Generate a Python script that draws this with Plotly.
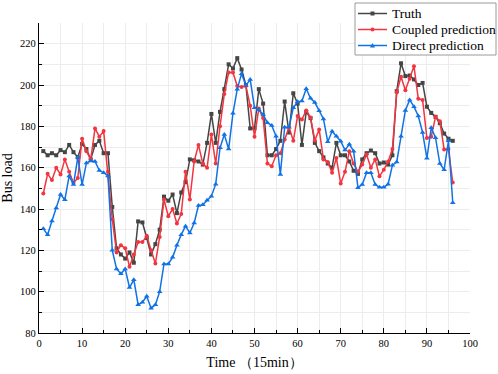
import plotly.graph_objects as go

time_idx = list(range(1, 97))

truth = [168, 166, 167, 166, 168.5, 167.5, 171, 167.5, 165, 171.5, 169, 164, 171, 173, 167, 167,
         141, 121, 118, 116, 119, 114, 134, 133.5, 126, 118, 123, 130, 146, 144, 147, 138,
         148, 153, 164, 163.6, 163, 161.5, 172, 186, 172, 187, 198, 210, 208, 213,
         207.5, 200, 179, 179, 198, 191, 166, 166, 169, 173, 192, 177, 196, 191, 171, 187,
         184, 172, 168, 165, 162, 160, 172, 166, 166, 163, 158.5, 157, 164, 167, 168.3, 167,
         162, 162.5, 161.5, 166, 197, 210.5, 204.3, 204.6, 202.7, 200, 201, 189.5, 186.5, 184.6,
         181.5, 176.5, 174, 173]

coupled = [147.5, 157, 154, 160, 156.7, 164, 158, 152.6, 155, 174, 168, 164, 179, 175, 177.7, 158,
           135, 119, 122.5, 121, 112, 118, 124, 124, 127, 120, 113.6, 126.5, 144.6, 136.5, 140, 133,
           137.6, 158, 144.6, 163, 171, 162, 160, 176, 162, 180, 195.7, 206, 206, 199.5,
           199, 199.5, 190, 175, 188.6, 184, 162, 160.7, 166, 167, 173.6, 179.8, 173, 185, 183.3, 187.7,
           184.3, 173.2, 178.5, 164, 162.7, 157.5, 164.7, 152.3, 158, 168, 162, 158, 161.5, 166.4, 160, 164,
           155.8, 159, 163, 169, 196.5, 204, 197.5, 203, 209.1, 193.3, 192.8, 174.4, 175, 184.6,
           182.5, 168.8, 169, 152.8]

direct = [130.5, 127.5, 134.2, 140.5, 147, 144.5, 156, 151.8, 165, 151.8, 162.3, 163.2, 163, 158.6, 157.6, 156,
          120, 111, 108.7, 111, 102, 105.8, 93.7, 94.9, 97.8, 92, 93.7, 100, 113.4, 113.4, 116.6, 122.5,
          127.6, 131.7, 128.4, 133.2, 141.7, 142, 144.2, 146.2, 152, 169.6, 176, 169, 186.3, 198,
          205.5, 199.7, 202.7, 189, 188, 185.7, 181.7, 180.4, 175.2, 156.7, 179.6, 179.6, 189, 191.9, 192.2, 198.2,
          193.6, 191.5, 187.6, 183.6, 172.5, 177.6, 175.2, 172.8, 168.5, 171.3, 168, 150.3, 151.8, 157.5, 157.5, 151.8,
          150.5, 150.5, 152, 161.2, 162.7, 175.2, 187.7, 192.8, 189.5, 185, 177, 164.5, 179.3, 174.5,
          162, 159, 173, 143]

x_ticks = [0, 10, 20, 30, 40, 50, 60, 70, 80, 90, 100]
y_ticks = [80, 100, 120, 140, 160, 180, 200, 220]

series_names = ["Truth", "Coupled prediction", "Direct prediction"]
series_colors = ["#454545", "#f2353f", "#0f72e6"]
series_symbols = ["square", "circle", "triangle-up"]
series_sizes = [4, 4, 5]

FONT = "Liberation Serif, Times New Roman, serif"

W, H = 498, 374
ML, MR, MT, MB = 39, 28, 23, 41
PW, PH = W - ML - MR, H - MT - MB


def px2paper_x(px):
    return (px - ML) / PW


def px2paper_y(py):
    return (H - MB - py) / PH


fig = go.Figure()
for name, vals, col, sym, sz in zip(series_names, [truth, coupled, direct],
                                    series_colors, series_symbols, series_sizes):
    fig.add_trace(go.Scatter(
        x=time_idx, y=vals, mode="lines+markers", name=name,
        line=dict(color=col, width=1.5),
        marker=dict(symbol=sym, size=sz, color=col, line=dict(width=0)),
        showlegend=False,
    ))

# ---- manual legend (box, line samples with markers, labels) ----
shapes = []
annotations = []
box_l, box_r, box_t, box_b = 355, 496, 3, 55
shapes.append(dict(type="rect", xref="paper", yref="paper",
                   x0=px2paper_x(box_l), x1=px2paper_x(box_r),
                   y0=px2paper_y(box_b), y1=px2paper_y(box_t),
                   fillcolor="white", line=dict(color="#9a9a9a", width=1), layer="above"))
row_py = [13.5, 29.5, 45.5]
ln_l, ln_r, txt_l = 358, 387, 390
for name, col, sym, ry in zip(series_names, series_colors, series_symbols, row_py):
    yp = px2paper_y(ry)
    shapes.append(dict(type="line", xref="paper", yref="paper",
                       x0=px2paper_x(ln_l), x1=px2paper_x(ln_r), y0=yp, y1=yp,
                       line=dict(color=col, width=1.5), layer="above"))
    cx = (ln_l + ln_r) / 2
    if sym == "square":
        shapes.append(dict(type="rect", xref="paper", yref="paper",
                           x0=px2paper_x(cx - 2), x1=px2paper_x(cx + 2),
                           y0=px2paper_y(ry + 2), y1=px2paper_y(ry - 2),
                           fillcolor=col, line=dict(width=0), layer="above"))
    elif sym == "circle":
        shapes.append(dict(type="circle", xref="paper", yref="paper",
                           x0=px2paper_x(cx - 2), x1=px2paper_x(cx + 2),
                           y0=px2paper_y(ry + 2), y1=px2paper_y(ry - 2),
                           fillcolor=col, line=dict(width=0), layer="above"))
    else:
        path = "M {} {} L {} {} L {} {} Z".format(
            px2paper_x(cx - 2.6), px2paper_y(ry + 2),
            px2paper_x(cx + 2.6), px2paper_y(ry + 2),
            px2paper_x(cx), px2paper_y(ry - 2.6))
        shapes.append(dict(type="path", xref="paper", yref="paper", path=path,
                           fillcolor=col, line=dict(width=0), layer="above"))
    annotations.append(dict(xref="paper", yref="paper", x=px2paper_x(txt_l), y=yp,
                            xanchor="left", yanchor="middle", showarrow=False,
                            text=name, font=dict(family=FONT, size=13.5, color="black")))

axis_common = dict(
    showline=True, linecolor="black", linewidth=1.3,
    ticks="inside", ticklen=5, tickcolor="black", tickwidth=1.2,
    showgrid=False, zeroline=False,
    tickfont=dict(family=FONT, size=10.5, color="black"),
)

fig.update_layout(
    width=W, height=H,
    margin=dict(l=ML, r=MR, t=MT, b=MB, autoexpand=False),
    paper_bgcolor="white", plot_bgcolor="white",
    font=dict(family=FONT, color="black"),
    xaxis=dict(range=[0, 100], tickvals=x_ticks,
               minor=dict(dtick=5, tick0=0, ticks="inside", ticklen=3, tickcolor="black",
                          showgrid=True, gridcolor="#ececec", gridwidth=1),
               title=dict(text="Time （15min）", font=dict(family=FONT, size=14), standoff=9),
               **axis_common),
    yaxis=dict(range=[80, 230], tickvals=y_ticks,
               minor=dict(dtick=10, tick0=80, ticks="inside", ticklen=3, tickcolor="black",
                          showgrid=True, gridcolor="#ececec", gridwidth=1),
               title=dict(text="Bus load", font=dict(family=FONT, size=14), standoff=5),
               **axis_common),
    shapes=shapes,
    annotations=annotations,
    showlegend=False,
)

fig.write_html("out.html", config={"displayModeBar": False},
               post_script="document.body.style.margin='0px';")
